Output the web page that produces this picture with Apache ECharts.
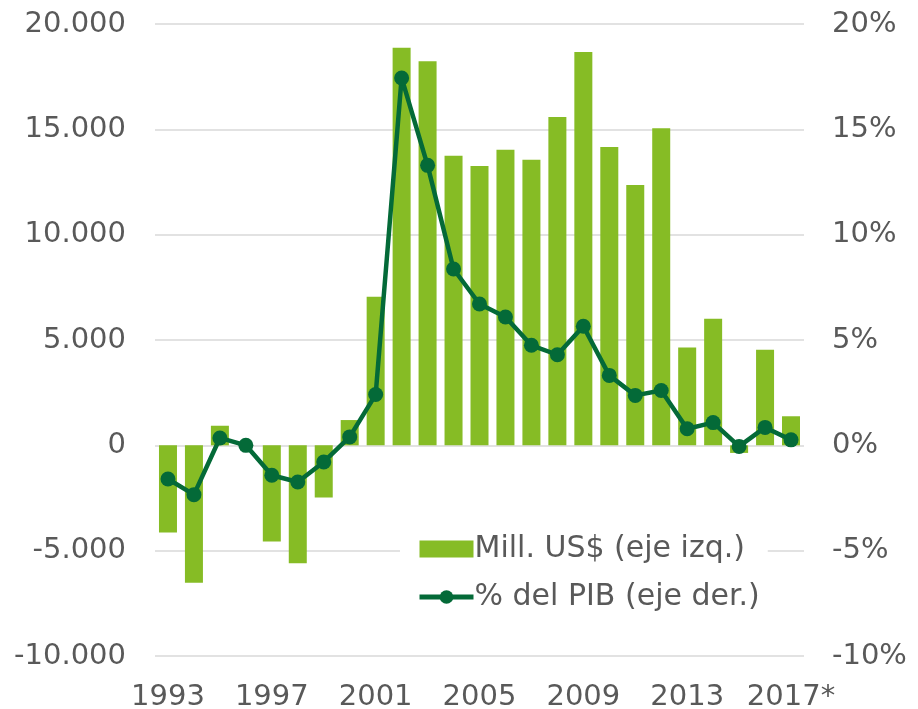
<!DOCTYPE html>
<html>
<head>
<meta charset="utf-8">
<script src="https://cdn.jsdelivr.net/npm/echarts@6/dist/echarts.min.js"></script>
<style>html,body{margin:0;padding:0;background:#fff}#c{width:918px;height:709px}</style>
</head>
<body>
<div id="c"></div>
<script>
const years = ['1993','1994','1995','1996','1997','1998','1999','2000','2001','2002','2003','2004','2005','2006','2007','2008','2009','2010','2011','2012','2013','2014','2015','2016','2017*'];
const millUSD = [-4140,-6520,930,0,-4560,-5600,-2480,1200,7050,18870,18230,13750,13260,14030,13560,15590,18670,14160,12360,15050,4640,6010,-360,4540,1380];
const pctPIB = [-1.6,-2.34,0.35,0.0,-1.42,-1.74,-0.79,0.4,2.41,17.44,13.29,8.37,6.71,6.09,4.75,4.3,5.65,3.32,2.37,2.6,0.79,1.08,-0.05,0.85,0.26];
const leftTicks = [-10000, 20000, 5000];
const rightTicks = [-10, 20, 5];

const FONT = 'DejaVu Sans';
const TXT = '#595959';
const chart = echarts.init(document.getElementById('c'));
function fmtThousands(v){
  const s = Math.abs(v).toString().replace(/\B(?=(\d{3})+(?!\d))/g, '.');
  return (v < 0 ? '-' : '') + s;
}
chart.setOption({
  animation: false,
  textStyle: { fontFamily: FONT },
  grid: { left: 155, right: 114, top: 24, bottom: 53, containLabel: false, outerBoundsMode: 'none' },
  legend: {
    orient: 'vertical',
    left: 400,
    top: 528,
    backgroundColor: '#ffffff',
    padding: [6, 8, 6, 17],
    itemWidth: 54,
    itemHeight: 17,
    itemGap: 18,
    textStyle: { fontFamily: FONT, fontSize: 30, color: TXT, padding: [0,0,0,-4] },
    data: [
      { name: 'Mill. US$ (eje izq.)', icon: 'rect' },
      { name: '% del PIB (eje der.)', lineStyle: { width: 5, color: '#046A38' } }
    ]
  },
  xAxis: {
    type: 'category',
    data: years,
    boundaryGap: true,
    axisLine: { show: false },
    axisTick: { show: false },
    axisLabel: { interval: 3, margin: 27, fontFamily: FONT, fontSize: 29, color: TXT }
  },
  yAxis: [
    {
      type: 'value',
      min: leftTicks[0], max: leftTicks[1], interval: leftTicks[2],
      axisLine: { show: false }, axisTick: { show: false },
      splitLine: { lineStyle: { color: '#d9d9d9', width: 1.5 } },
      axisLabel: { margin: 29, fontFamily: FONT, fontSize: 29, color: TXT, formatter: fmtThousands }
    },
    {
      type: 'value',
      min: rightTicks[0], max: rightTicks[1], interval: rightTicks[2],
      axisLine: { show: false }, axisTick: { show: false },
      splitLine: { show: false },
      axisLabel: { margin: 28, fontFamily: FONT, fontSize: 29, color: TXT, formatter: '{value}%' }
    }
  ],
  series: [
    {
      name: 'Mill. US$ (eje izq.)',
      type: 'bar',
      yAxisIndex: 0,
      data: millUSD,
      barWidth: 18,
      itemStyle: { color: '#86BC25' }
    },
    {
      name: '% del PIB (eje der.)',
      type: 'line',
      yAxisIndex: 1,
      data: pctPIB,
      symbol: 'circle',
      symbolSize: 15,
      lineStyle: { color: '#046A38', width: 4.5 },
      itemStyle: { color: '#046A38' },
      z: 3
    }
  ]
});
</script>
</body>
</html>
